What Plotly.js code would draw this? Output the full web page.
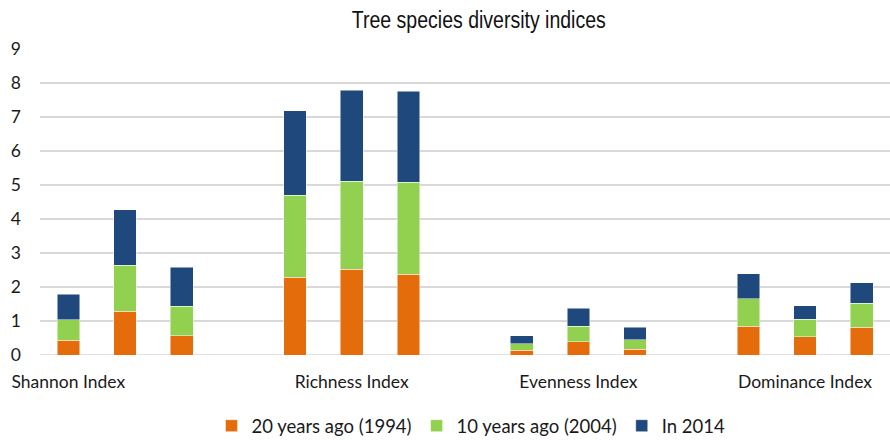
<!DOCTYPE html>
<html>
<head>
<meta charset="utf-8">
<script src="https://cdn.plot.ly/plotly-3.0.1.min.js"></script>
<style>html,body{margin:0;padding:0;background:#fff;}#chart{width:890px;height:440px;}</style>
</head>
<body>
<div id="chart"></div>
<script>
// Group (index) names and the three sites/bars per group
const groups = ["Shannon Index", "Richness Index", "Evenness Index", "Dominance Index"];
const barsPerGroup = 3;
const seriesNames = ["20 years ago (1994)", "10 years ago (2004)", "In 2014"];
// Stacked segment values, 3 bars per group, in group order
const y1994 = [0.43, 1.29, 0.56, 2.29, 2.52, 2.38, 0.14, 0.39, 0.17, 0.84, 0.54, 0.81];
const y2004 = [0.61, 1.35, 0.87, 2.41, 2.59, 2.70, 0.19, 0.45, 0.28, 0.81, 0.51, 0.71];
const y2014 = [0.74, 1.63, 1.15, 2.48, 2.68, 2.68, 0.24, 0.53, 0.37, 0.74, 0.40, 0.60];
const seriesColors = ["#E46C0A", "#92D050", "#1F497D"];

// Category slots: each group has 3 bars followed by one empty slot
const slotsPerGroup = barsPerGroup + 1;
const nSlots = groups.length * slotsPerGroup - 1;
const slotIds = Array.from({length: nSlots}, (_, i) => "s" + i);
const barX = [];
groups.forEach((g, gi) => { for (let b = 0; b < barsPerGroup; b++) barX.push(slotIds[gi * slotsPerGroup + b]); });
// label under first bar for first group, middle bar for the rest (as in the reference)
const labelSlots = groups.map((g, gi) => slotIds[gi * slotsPerGroup + (gi === 0 ? 0 : 1)]);

const font = "Lato, 'Open Sans', sans-serif";
const data = [y1994, y2004, y2014].map((vals, i) => ({
  type: "bar",
  name: seriesNames[i],
  x: barX,
  y: vals,
  width: 0.4,
  marker: {color: seriesColors[i], line: {color: "rgba(255,255,255,0.6)", width: 0.8}},
  hoverinfo: "y+name"
}));

const layout = {
  width: 890, height: 440,
  margin: {l: 40, r: 0, t: 48.5, b: 85.3},
  paper_bgcolor: "#fff", plot_bgcolor: "#fff",
  barmode: "stack",
  title: {text: "Tree species diversity indices", x: 0.538, xanchor: "center", y: 0.955, yanchor: "middle",
          font: {family: "'Liberation Sans', Arial, sans-serif", size: 23, color: "#111"}},
  xaxis: {type: "category", categoryorder: "array", categoryarray: slotIds, range: [-0.5, nSlots - 0.5],
          tickvals: labelSlots, ticktext: groups, showgrid: false, zeroline: false, showline: false,
          ticks: "", ticklabelstandoff: 14, tickfont: {family: font, size: 17.5, color: "#1a1a1a"}},
  yaxis: {range: [0, 9], dtick: 1, tick0: 0, showgrid: true, gridcolor: "#D9D9D9", gridwidth: 1.3,
          zeroline: false, showline: false, ticks: "", ticklabelstandoff: 18,
          tickfont: {family: font, size: 17.5, color: "#1a1a1a"}},
  showlegend: true,
  legend: {orientation: "h", x: 0.507, xanchor: "center", y: -0.275, yanchor: "bottom",
           font: {family: font, size: 18.5, color: "#1a1a1a"}, traceorder: "normal", itemwidth: 30},
  bargap: 0.6
};
layout.shapes = [{type: "line", xref: "paper", yref: "y", x0: 0, x1: 1, y0: 0, y1: 0, line: {color: "#D9D9D9", width: 1.3}, layer: "below"}];

Plotly.newPlot("chart", data, layout, {displayModeBar: false, staticPlot: true}).then(gd => {
  // condense the title to match the narrow title face of the reference
  const t = gd.querySelector(".gtitle");
  if (t) { t.setAttribute("textLength", "254"); t.setAttribute("lengthAdjust", "spacingAndGlyphs"); }
  // nudge the legend down a few pixels (its padding would otherwise enlarge the bottom margin)
  const lg = gd.querySelector("g.legend");
  if (lg) {
    const m = /translate\(([-\d.]+)[ ,]+([-\d.]+)\)/.exec(lg.getAttribute("transform") || "");
    if (m) lg.setAttribute("transform", "translate(" + m[1] + "," + (parseFloat(m[2]) + 6) + ")");
  }
});
</script>
</body>
</html>
